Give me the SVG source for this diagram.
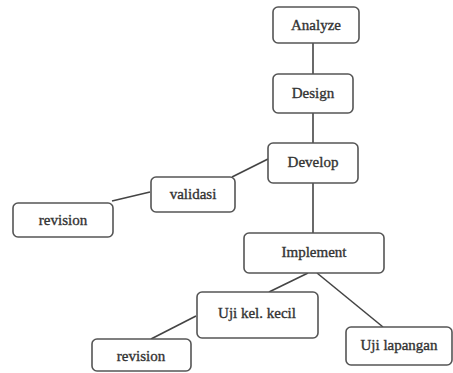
<svg xmlns="http://www.w3.org/2000/svg" width="453" height="373" viewBox="0 0 453 373">
<style>
.box{fill:#fff;stroke:#555;stroke-width:1.6}
.lbl{font-family:"Liberation Serif","Times New Roman",serif;font-size:15px;fill:#333;stroke:#333;stroke-width:0.35;text-anchor:middle;dominant-baseline:central}
.edge{stroke:#444;stroke-width:1.6;fill:none}
</style>
<rect width="453" height="373" fill="#fff"/>
<g id="connectors">
<line class="edge" x1="313" y1="43" x2="313" y2="74"/>
<line class="edge" x1="313" y1="113" x2="313" y2="143"/>
<line class="edge" x1="232" y1="177" x2="268" y2="159"/>
<line class="edge" x1="112" y1="201" x2="150" y2="192"/>
<line class="edge" x1="313" y1="183" x2="313" y2="233"/>
<line class="edge" x1="308" y1="273" x2="269" y2="292"/>
<line class="edge" x1="317" y1="273" x2="383" y2="327"/>
<line class="edge" x1="196" y1="316" x2="151" y2="339"/>
</g>
<g id="analyze"><rect class="box" x="273" y="7" width="86" height="36" rx="5"/><text class="lbl" x="316" y="25">Analyze</text></g>
<g id="design"><rect class="box" x="273" y="74" width="80" height="39" rx="5"/><text class="lbl" x="313" y="93">Design</text></g>
<g id="develop"><rect class="box" x="268" y="143" width="90" height="40" rx="5"/><text class="lbl" x="313" y="162">Develop</text></g>
<g id="validasi"><rect class="box" x="151" y="177" width="84" height="35" rx="5"/><text class="lbl" x="193" y="194">validasi</text></g>
<g id="revision1"><rect class="box" x="13" y="203" width="100" height="34" rx="5"/><text class="lbl" x="63" y="220">revision</text></g>
<g id="implement"><rect class="box" x="244" y="233" width="140" height="40" rx="5"/><text class="lbl" x="314" y="252">Implement</text></g>
<g id="ujikel"><rect class="box" x="197" y="292" width="121" height="46" rx="5"/><text class="lbl" x="257" y="313">Uji kel. kecil</text></g>
<g id="ujilapangan"><rect class="box" x="346" y="327" width="106" height="38" rx="5"/><text class="lbl" x="399" y="345">Uji lapangan</text></g>
<g id="revision2"><rect class="box" x="92" y="339" width="99" height="32" rx="5"/><text class="lbl" x="141" y="356">revision</text></g>
</svg>
